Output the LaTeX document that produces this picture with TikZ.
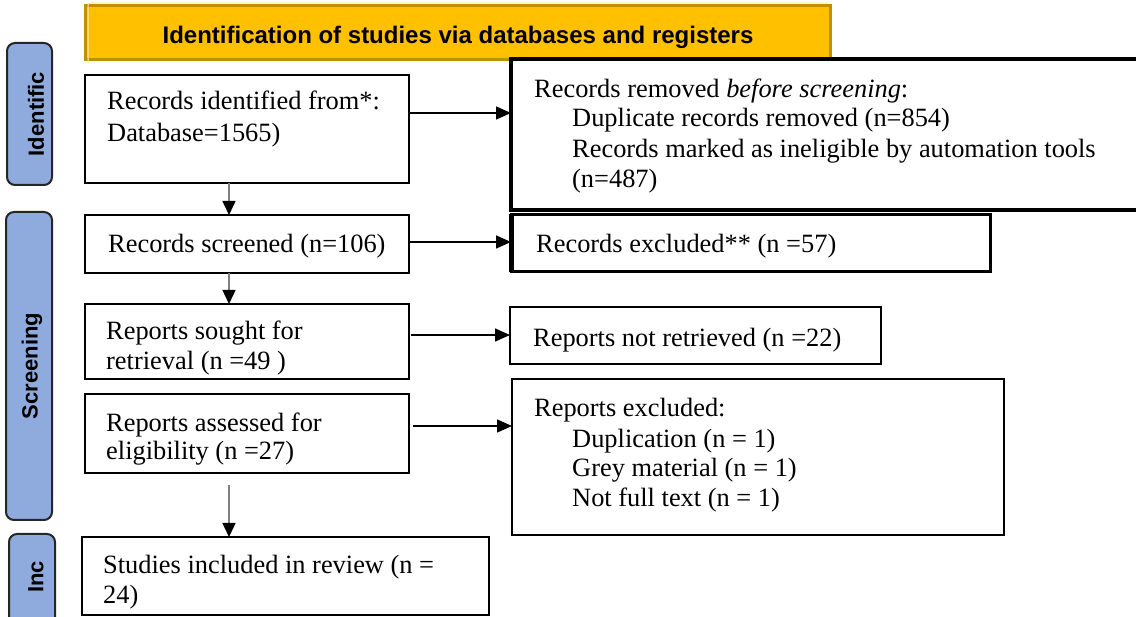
\documentclass[tikz,border=0pt]{standalone}
\usepackage{fontspec}
\setmainfont{Liberation Serif}
\newfontfamily\sansf{Liberation Sans}
\usetikzlibrary{arrows.meta}
\definecolor{gold}{HTML}{FFC000}
\definecolor{goldedge}{HTML}{BF9000}
\definecolor{sideblue}{HTML}{8FAADC}
\definecolor{sideedge}{HTML}{262626}
\definecolor{stemgray}{HTML}{808080}
\begin{document}
\begin{tikzpicture}[x=1pt,y=-1pt,
  box/.style={draw=black,line width=2.4pt,rectangle,inner sep=0pt,outer sep=0pt,anchor=north west},
  thickbox/.style={box,line width=4.5pt},
  midbox/.style={box,line width=3pt},
  thinbox/.style={box,line width=2pt},
  txt/.style={anchor=base west,inner sep=0pt,font=\fontsize{26.4}{30}\selectfont},
  side/.style={draw=sideedge,fill=sideblue,line width=2pt,rounded corners=8pt,rectangle,inner sep=0pt,outer sep=0pt,anchor=north west},
  sidetxt/.style={rotate=90,inner sep=0pt,font=\sansf\bfseries\fontsize{22}{26}\selectfont},
  harr/.style={line width=1.5pt,-{Triangle[length=15pt,width=13pt]}},
  varr/.style={line width=1.5pt,draw=stemgray,-{Triangle[length=14pt,width=13pt,color=black]}}
]
\clip (0,0) rectangle (1136,617);
\useasboundingbox (0,0) rectangle (1136,617);

% title banner
\node[draw=goldedge,fill=gold,line width=3pt,rectangle,inner sep=0pt,outer sep=0pt,anchor=north west,
      minimum width=745pt,minimum height=54pt] (title) at (85,6) {};
\draw[gold!35!white,line width=1pt,rounded corners=2pt]
  ([xshift=3pt,yshift=-3pt]title.south west) -- ([xshift=3pt,yshift=3pt]title.north west)
  -- ([xshift=-3pt,yshift=3pt]title.north east);
\node[anchor=base,inner sep=0pt,font=\sansf\bfseries\fontsize{24}{28}\selectfont] (titlet) at (458,44)
  {Identification of studies via databases and registers};

% side labels
\node[side,minimum width=45pt,minimum height=142pt] (s1) at (7,43) {};
\node[sidetxt] (s1t) at (36,114) {Identific};
\node[side,minimum width=46pt,minimum height=308pt] (s2) at (6,212) {};
\node[sidetxt] (s2t) at (32,366) {Screening};
\node[side,minimum width=46pt,minimum height=110pt] (s3) at (9,534) {};
\node[sidetxt] (s3t) at (36,577) {Inc};

% left column
\node[box,minimum width=324pt,minimum height=108pt] (b1) at (85,75) {};
\node[txt] (b1a) at (107,110) {Records identified from*:};
\node[txt] (b1b) at (107,142) {Database=1565)};

\node[box,minimum width=324pt,minimum height=58pt] (b2) at (85,215) {};
\node[txt] (b2a) at (108,253) {Records screened (n=106)};

\node[box,minimum width=324pt,minimum height=75pt] (b3) at (85,304) {};
\node[txt] (b3a) at (106,340) {Reports sought for};
\node[txt] (b3b) at (106,370) {retrieval (n =49 )};

\node[box,minimum width=324pt,minimum height=79pt] (b4) at (85,394) {};
\node[txt] (b4a) at (106,432) {Reports assessed for};
\node[txt] (b4b) at (106,460) {eligibility (n =27)};

\node[box,minimum width=407pt,minimum height=78pt] (b5) at (82,537) {};
\node[txt] (b5a) at (103,573) {Studies included in review (n =};
\node[txt] (b5b) at (103,603) {24)};

% right column
\node[thickbox,minimum width=640pt,minimum height=151pt] (rem) at (511,59) {};
\node[txt] (rema) at (534,98) {Records removed \textit{before screening}:};
\node[txt] (remb) at (572,127) {Duplicate records removed (n=854)};
\node[txt] (remc) at (572,158) {Records marked as ineligible by automation tools};
\node[txt] (remd) at (572,188) {(n=487)};

\node[midbox,minimum width=479pt,minimum height=57.5pt] (exc) at (511,214.5) {};
\draw[line width=5pt] (exc.north west) -- (exc.south west);
\node[txt] (exca) at (536,253) {Records excluded** (n =57)};

\node[thinbox,minimum width=371pt,minimum height=57pt] (nr) at (510,307) {};
\node[txt] (nra) at (533,347) {Reports not retrieved (n =22)};

\node[thinbox,minimum width=492pt,minimum height=156pt] (rex) at (512,379) {};
\node[txt] (rexa) at (534,417) {Reports excluded:};
\node[txt] (rexb) at (572,448) {Duplication (n = 1)};
\node[txt] (rexc) at (572,477) {Grey material (n = 1)};
\node[txt] (rexd) at (572,507) {Not full text (n = 1)};

% horizontal connectors
\coordinate (h1) at (0,113);
\coordinate (h2) at (0,242);
\coordinate (h3) at (0,335);
\coordinate (h4) at (0,426);
\draw[harr] (b1.east |- h1) -- (rem.west |- h1);
\draw[harr] (b2.east |- h2) -- (exc.west |- h2);
\draw[harr] ([xshift=2pt]b3.east |- h3) -- (nr.west |- h3);
\draw[harr] ([xshift=4pt]b4.east |- h4) -- (rex.west |- h4);

% vertical connectors
\coordinate (v) at (229,0);
\coordinate (v4) at (229,485);
\draw[varr] (b1.south -| v) -- (b2.north -| v);
\draw[varr] (b2.south -| v) -- (b3.north -| v);
\draw[varr] (v4) -- (b5.north -| v4);
\end{tikzpicture}
\end{document}
